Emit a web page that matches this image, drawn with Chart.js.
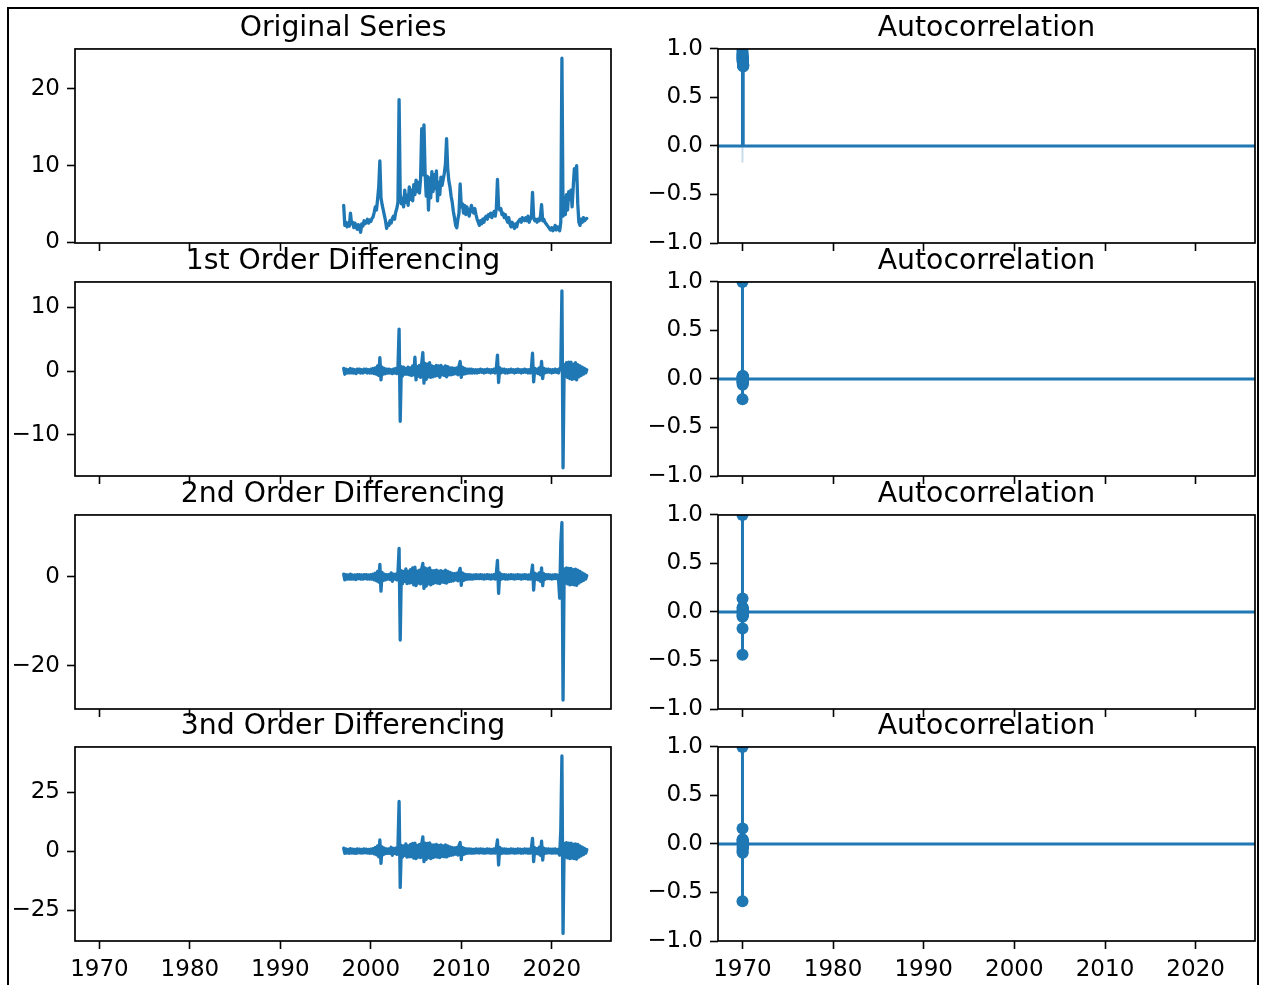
<!DOCTYPE html>
<html>
<head>
<meta charset="utf-8">
<title>Differencing and Autocorrelation</title>
<script src="https://cdn.jsdelivr.net/npm/chart.js@4.4.0/dist/chart.umd.min.js"></script>
<style>
    html, body { margin: 0; padding: 0; background: #fff; }
    body { width: 1262px; height: 985px; position: relative; overflow: hidden; }
    .frame { position: absolute; left: 7px; top: 7px; width: 1248px; height: 1000px; border: 2px solid #000; }
    canvas { position: absolute; }
</style>
</head>
<body>
<div class="frame"></div>
<canvas id="series0"></canvas>
<canvas id="acf0"></canvas>
<canvas id="series1"></canvas>
<canvas id="acf1"></canvas>
<canvas id="series2"></canvas>
<canvas id="acf2"></canvas>
<canvas id="series3"></canvas>
<canvas id="acf3"></canvas>
<script>
// ===== Data =====
// series sampled every 1.5 months, starting 1997.0
const SERIES_START = 1997;
const SERIES_STEP = 0.125;

const originalSeries = [
    4.8, 2.2, 2.6, 2.0, 2.5, 2.1, 3.8, 2.4,      // 1997
    2.6, 1.9, 2.5, 2.0, 1.7, 2.3, 1.8, 1.3,      // 1998
    2.4, 2.1, 2.8, 2.4, 2.6, 3.0, 2.5, 2.9,      // 1999
    2.7, 3.1, 3.3, 3.9, 4.6, 4.2, 5.6, 7.2,      // 2000
    10.6, 5.8, 4.9, 4.2, 3.5, 2.8, 1.8, 2.4,     // 2001
    2.2, 2.8, 2.5, 3.1, 3.4, 3.0, 3.9, 4.4,      // 2002
    5.2, 18.6, 6.3, 5.0, 5.7, 4.6, 6.8, 5.2,     // 2003
    6.1, 4.8, 7.2, 5.6, 6.8, 5.4, 7.5, 6.2,      // 2004
    8.1, 6.6, 7.8, 6.4, 8.3, 14.8, 8.8, 15.3,    // 2005
    9.0, 6.0, 8.6, 4.2, 8.4, 5.8, 9.2, 6.6,      // 2006
    8.8, 7.0, 9.3, 5.4, 7.8, 6.2, 8.5, 7.4,      // 2007
    8.2, 9.0, 10.2, 13.5, 9.6, 8.0, 7.2, 6.0,    // 2008
    5.2, 4.0, 3.2, 2.2, 1.9, 3.0, 3.8, 7.6,      // 2009
    4.6, 5.0, 3.8, 4.8, 3.6, 4.6, 4.0, 3.4,      // 2010
    4.2, 4.8, 4.0, 3.8, 4.4, 3.6, 3.0, 2.6,      // 2011
    2.2, 2.8, 2.4, 3.0, 2.6, 3.2, 3.4, 3.0,      // 2012
    3.6, 3.4, 3.8, 3.2, 3.6, 4.0, 3.4, 4.4,      // 2013
    8.2, 4.6, 4.2, 4.4, 3.6, 3.8, 3.2, 3.6,      // 2014
    3.0, 2.6, 3.2, 2.4, 2.0, 2.6, 2.2, 1.8,      // 2015
    2.4, 2.0, 2.6, 2.8, 3.0, 2.6, 3.2, 3.0,      // 2016
    2.8, 3.2, 2.8, 3.4, 2.6, 3.0, 3.2, 6.5,      // 2017
    3.2, 2.8, 3.0, 2.6, 3.0, 2.8, 3.4, 4.9,      // 2018
    2.8, 3.0, 2.6, 2.4, 2.2, 2.0, 1.8, 1.6,      // 2019
    1.9, 1.5, 1.7, 2.2, 1.6, 2.0, 1.8, 1.5,      // 2020
    2.6, 24.0, 3.4, 5.8, 3.6, 6.2, 4.2, 6.6,     // 2021
    5.6, 6.8, 4.6, 7.2, 9.6, 8.2, 10.0, 5.0,     // 2022
    2.6, 2.2, 3.0, 2.6, 3.2, 2.8, 3.0, 3.1       // 2023
];

const diff1Series = [
    0.4, -0.5, 0.3, -0.3, 0.2, -0.3, 0.4, -0.3,
    0.3, -0.3, 0.2, -0.4, 0.3, -0.2, 0.3, -0.3,
    0.2, -0.3, 0.3, -0.2, 0.3, -0.3, 0.2, -0.3,
    0.3, -0.3, 0.4, -0.4, 0.5, -0.5, 0.8, -0.7,
    2.1, -1.4, 0.6, -0.5, 0.4, -0.4, 0.3, -0.3,
    0.3, -0.3, 0.2, -0.4, 0.3, -0.3, 0.4, -0.4,
    0.6, 6.6, -7.9, 0.7, -0.8, 0.6, -0.5, 0.4,
    -0.5, 0.6, -0.6, 0.5, -0.7, 0.8, -0.6, 2.2,
    -1.4, 0.7, -0.8, 0.9, -1.0, 1.2, 2.9, -1.9,
    1.2, -1.3, 1.1, -0.9, 1.3, -1.0, 0.8, -0.9,
    0.7, -0.8, 0.9, -0.7, 0.8, -1.0, 0.9, -0.6,
    0.6, -0.7, 0.8, -0.9, 0.7, -0.6, 0.5, -0.6,
    0.5, -0.5, 0.4, -0.4, 0.5, -0.6, 0.8, 1.5,
    -1.0, 0.6, -0.5, 0.4, -0.4, 0.3, -0.3, 0.3,
    -0.3, 0.3, -0.3, 0.2, -0.3, 0.2, -0.3, 0.2,
    -0.2, 0.3, -0.2, 0.2, -0.3, 0.2, -0.2, 0.3,
    -0.2, 0.2, -0.3, 0.2, -0.2, 0.3, -0.3, 0.4,
    2.5, -1.8, 0.5, -0.3, 0.3, -0.2, 0.3, -0.3,
    0.2, -0.3, 0.2, -0.2, 0.3, -0.2, 0.2, -0.3,
    0.2, -0.2, 0.3, -0.2, 0.2, -0.3, 0.2, -0.2,
    0.3, -0.2, 0.2, -0.3, 0.2, -0.3, 0.4, 2.8,
    -1.7, 0.4, -0.3, 0.3, -0.4, 0.5, -0.6, 1.5,
    -1.2, 0.4, -0.3, 0.3, -0.2, 0.3, -0.2, 0.2,
    -0.3, 0.2, -0.2, 0.3, -0.2, 0.2, -0.3, 0.4,
    0.6, 12.6, -15.2, 1.0, -0.8, 1.3, -1.0, 1.4,
    -1.2, 1.4, -1.3, 1.1, -1.2, 1.3, -1.4, 1.0,
    -0.9, 0.8, -0.7, 0.6, -0.5, 0.4, -0.3, 0.2
];

const diff2Series = [
    0.6, -0.7, 0.5, -0.5, 0.4, -0.5, 0.6, -0.5,
    0.4, -0.5, 0.4, -0.6, 0.5, -0.4, 0.5, -0.5,
    0.4, -0.5, 0.5, -0.4, 0.5, -0.5, 0.4, -0.5,
    0.5, -0.5, 0.6, -0.7, 0.8, -0.9, 1.2, -1.2,
    2.8, -3.2, 1.0, -0.8, 0.6, -0.7, 0.5, -0.5,
    0.5, -0.6, 0.9, -1.0, 0.6, -0.5, 0.6, -0.7,
    1.0, 6.4, -14.2, 1.4, -1.6, 1.2, -1.0, 1.8,
    -1.5, 1.2, -1.4, 1.6, -1.3, 2.0, -1.8, 2.2,
    -2.0, 1.3, -1.4, 1.5, -1.6, 1.8, 3.0, -2.6,
    2.0, -2.1, 1.8, -1.6, 2.0, -1.8, 1.4, -1.5,
    1.4, -1.3, 1.5, -1.4, 1.3, -1.5, 1.4, -1.2,
    1.2, -1.3, 1.5, -1.4, 1.2, -1.1, 1.0, -1.0,
    0.8, -0.9, 0.7, -0.7, 0.8, -0.9, 1.2, 1.9,
    -1.9, 0.9, -0.8, 0.6, -0.6, 0.5, -0.5, 0.5,
    -0.5, 0.4, -0.5, 0.4, -0.4, 0.5, -0.4, 0.4,
    -0.4, 0.5, -0.4, 0.4, -0.5, 0.4, -0.4, 0.5,
    -0.4, 0.4, -0.5, 0.4, -0.4, 0.5, -0.5, 0.7,
    3.7, -3.7, 0.9, -0.6, 0.5, -0.4, 0.5, -0.5,
    0.4, -0.5, 0.4, -0.4, 0.5, -0.4, 0.4, -0.5,
    0.4, -0.4, 0.5, -0.4, 0.4, -0.5, 0.4, -0.4,
    0.5, -0.4, 0.4, -0.5, 0.4, -0.5, 0.7, 2.6,
    -3.0, 0.8, -0.6, 0.6, -0.7, 0.9, -1.0, 2.0,
    -2.0, 0.7, -0.6, 0.5, -0.4, 0.5, -0.4, 0.4,
    -0.5, 0.4, -0.4, 0.5, -0.4, 0.4, -0.5, -4.8,
    7.5, 12.2, -27.7, 1.8, -1.4, 2.0, -1.6, 1.9,
    -1.8, 1.9, -1.7, 1.6, -1.8, 1.7, -1.9, 1.5,
    -1.4, 1.2, -1.1, 0.9, -0.8, 0.6, -0.5, 0.3
];

const diff3Series = [
    1.2, -1.0, 0.9, -0.8, 0.7, -0.9, 1.0, -0.8,
    0.8, -0.9, 0.7, -1.0, 0.9, -0.7, 0.8, -0.8,
    0.7, -0.8, 0.9, -0.7, 0.8, -0.8, 0.7, -0.9,
    0.8, -0.9, 1.0, -1.2, 1.5, -1.6, 2.2, -2.4,
    4.7, -5.2, 1.8, -1.5, 1.2, -1.1, 0.9, -1.0,
    0.9, -1.0, 1.6, -1.8, 1.1, -1.0, 1.2, -1.4,
    2.0, 21.0, -15.4, 2.4, -2.6, 2.2, -1.8, 3.0,
    -2.6, 2.2, -2.4, 2.8, -2.3, 3.2, -3.0, 3.4,
    -3.2, 2.4, -2.6, 2.8, -2.8, 3.0, 6.0, -4.5,
    3.4, -3.5, 3.2, -2.8, 3.5, -3.2, 2.6, -2.8,
    2.6, -2.4, 2.8, -2.6, 2.4, -2.8, 2.6, -2.2,
    2.2, -2.4, 2.6, -2.5, 2.2, -2.0, 1.8, -1.8,
    1.5, -1.6, 1.3, -1.3, 1.5, -1.7, 2.4, 3.6,
    -3.6, 1.6, -1.4, 1.1, -1.1, 0.9, -0.9, 0.9,
    -0.9, 0.8, -0.9, 0.7, -0.8, 0.9, -0.7, 0.8,
    -0.8, 0.9, -0.7, 0.8, -0.9, 0.7, -0.8, 0.9,
    -0.7, 0.8, -0.9, 0.7, -0.8, 0.9, -0.9, 1.3,
    4.7, -5.9, 1.6, -1.1, 0.9, -0.8, 0.9, -0.9,
    0.8, -0.9, 0.7, -0.8, 0.9, -0.7, 0.8, -0.9,
    0.7, -0.8, 0.9, -0.7, 0.8, -0.9, 0.7, -0.8,
    0.9, -0.7, 0.8, -0.9, 0.8, -0.9, 1.3, 5.4,
    -4.5, 1.4, -1.1, 1.0, -1.2, 1.6, -1.8, 4.2,
    -3.8, 1.2, -1.0, 0.9, -0.8, 0.9, -0.7, 0.8,
    -0.9, 0.8, -0.8, 0.9, -0.8, 0.7, -0.9, -1.7,
    8.9, 40.3, -34.9, 3.2, -2.6, 3.6, -2.9, 3.4,
    -3.2, 3.4, -3.0, 2.9, -3.2, 3.0, -3.4, 2.8,
    -2.6, 2.2, -2.0, 1.7, -1.5, 1.1, -0.9, 0.6
];

// autocorrelation, lags 0..30 (lags land in days after 1970 on the shared date axis)
const acfOriginal = [1.0, 0.97, 0.95, 0.94, 0.93, 0.92, 0.91, 0.91, 0.90, 0.90, 0.89, 0.89, 0.88, 0.88, 0.87, 0.87,
    0.87, 0.86, 0.86, 0.86, 0.85, 0.85, 0.85, 0.84, 0.84, 0.84, 0.84, 0.83, 0.83, 0.83, 0.82];
const acfDiff1 = [1.0, -0.21, -0.03, 0.02, -0.04, 0.03, -0.02, 0.01, -0.06, 0.02, 0.0, -0.03, 0.01, 0.02, -0.02, 0.01,
    -0.01, 0.03, -0.02, 0.0, 0.01, -0.04, 0.02, -0.01, 0.01, 0.0, -0.02, 0.01, 0.02, -0.01, 0.0];
const acfDiff2 = [1.0, -0.44, -0.17, 0.14, -0.05, 0.04, -0.03, 0.02, -0.04, 0.05, -0.01, 0.01, -0.02, 0.03, 0.0, -0.01,
    0.02, -0.03, 0.01, 0.0, -0.02, 0.01, 0.02, -0.01, 0.0, 0.01, -0.02, 0.01, 0.0, -0.01, 0.01];
const acfDiff3 = [1.0, -0.59, 0.16, -0.08, 0.05, -0.06, 0.03, -0.04, 0.02, -0.09, 0.04, -0.02, 0.01, 0.03, -0.03, 0.02,
    -0.01, 0.0, 0.02, -0.02, 0.01, -0.01, 0.0, 0.02, -0.03, 0.01, 0.0, -0.01, 0.01, 0.0, -0.01];
const acfBands = [0.17, 0.03, 0.03, 0.03];

const seriesTitles = ['Original Series', '1st Order Differencing', '2nd Order Differencing', '3nd Order Differencing'];
const acfTitle = 'Autocorrelation';

const yearTicks = [1970, 1980, 1990, 2000, 2010, 2020];
const yearRange = [1967.3, 2026.55];
const seriesTicks = [[0, 10, 20], [-10, 0, 10], [-20, 0], [-25, 0, 25]];
const seriesRanges = [[-0.1, 25.2], [-16.5, 14.0], [-29.7, 13.9], [-38.1, 44.1]];
const acfTicks = [-1, -0.5, 0, 0.5, 1];
const acfRange = [-1, 1];

// ===== Layout =====
const AXES_W = [536, 539];
const AXES_H = 194;
const COL_LEFT = [75, 718];
const ROW_TOP = [49, 282, 515, 747];
const Y_AXIS_W = 68;
const TITLE_SIZE = 28.3;
const TITLE_PAD = 3;
const TITLE_H = Math.round(TITLE_SIZE * 1.2) + TITLE_PAD;
const X_AXIS_H = 24;        // must exceed half a y label plus its padding
const X_AXIS_H_BOTTOM = 48;
const RIGHT_PAD = 4;

const BLUE = '#1f77b4';
const FONT = 'DejaVu Sans';

Chart.defaults.font.family = FONT;
Chart.defaults.font.size = 23;
Chart.defaults.color = '#000';

// draw the four spines around the plot area
const spinesPlugin = {
    id: 'spines',
    afterDraw(chart) {
        const { ctx, chartArea: a } = chart;
        ctx.save();
        ctx.strokeStyle = '#000';
        ctx.lineWidth = 1.7;
        ctx.strokeRect(a.left, a.top, a.right - a.left, a.bottom - a.top);
        ctx.restore();
    }
};

const minusSign = (txt, v) => (v < 0 ? '\u2212' : '') + txt;

// ===== Charts Manager =====
const PanelCharts = {
    charts: {},

    // Position and size the canvas for a panel
    placeCanvas(canvasId, col, row) {
        const canvas = document.getElementById(canvasId);
        const xh = row === 3 ? X_AXIS_H_BOTTOM : X_AXIS_H;
        canvas.width = Y_AXIS_W + AXES_W[col] + RIGHT_PAD;
        canvas.height = TITLE_H + AXES_H + xh;
        canvas.style.left = (COL_LEFT[col] - Y_AXIS_W) + 'px';
        canvas.style.top = (ROW_TOP[row] - TITLE_H) + 'px';
        return canvas;
    },

    xScale(row) {
        const xh = row === 3 ? X_AXIS_H_BOTTOM : X_AXIS_H;
        return {
            type: 'linear',
            min: yearRange[0],
            max: yearRange[1],
            afterBuildTicks: (axis) => { axis.ticks = yearTicks.map(v => ({ value: v })); },
            afterFit: (axis) => { axis.height = xh; },
            grid: { display: true, drawOnChartArea: false, drawTicks: true, tickLength: 8, tickWidth: 1.6, tickColor: '#000' },
            border: { display: false },
            ticks: {
                display: row === 3,
                padding: 7,
                maxRotation: 0,
                autoSkip: false,
                callback: (v) => String(v)
            }
        };
    },

    yScale(ticks, range, decimals) {
        return {
            type: 'linear',
            min: range[0],
            max: range[1],
            afterBuildTicks: (axis) => { axis.ticks = ticks.map(v => ({ value: v })); },
            afterFit: (axis) => { axis.width = Y_AXIS_W; },
            grid: { display: true, drawOnChartArea: false, drawTicks: true, tickLength: 8, tickWidth: 1.6, tickColor: '#000' },
            border: { display: false },
            ticks: {
                padding: 7,
                autoSkip: false,
                callback: (v) => minusSign(Math.abs(v).toFixed(decimals), v)
            }
        };
    },

    baseOptions(title, row, yScale) {
        return {
            responsive: false,
            devicePixelRatio: 1,
            animation: false,
            layout: { padding: { left: 0, right: RIGHT_PAD, top: 0, bottom: 0 } },
            plugins: {
                legend: { display: false },
                tooltip: { enabled: false },
                title: {
                    display: true,
                    text: title,
                    color: '#000',
                    fullSize: false,
                    font: { family: FONT, size: TITLE_SIZE, weight: 'normal', lineHeight: 1.2 },
                    padding: { top: 0, bottom: TITLE_PAD }
                }
            },
            scales: { x: this.xScale(row), y: yScale }
        };
    },

    // Time series panel (left column)
    createSeriesChart(canvasId, row, values) {
        const canvas = this.placeCanvas(canvasId, 0, row);
        const points = values.map((v, i) => ({ x: SERIES_START + i * SERIES_STEP, y: v }));

        this.charts[canvasId] = new Chart(canvas, {
            type: 'line',
            data: {
                datasets: [{
                    data: points,
                    borderColor: BLUE,
                    borderWidth: 3.3,
                    borderJoinStyle: 'round',
                    borderCapStyle: 'round',
                    pointRadius: 0,
                    tension: 0,
                    clip: 0
                }]
            },
            options: this.baseOptions(seriesTitles[row], row,
                this.yScale(seriesTicks[row], seriesRanges[row], 0)),
            plugins: [spinesPlugin]
        });
    },

    // Autocorrelation panel (right column)
    createAcfChart(canvasId, row, acf, band) {
        const canvas = this.placeCanvas(canvasId, 1, row);
        const lagX = (lag) => 1970 + lag / 365.25;

        const stems = [];
        acf.forEach((v, lag) => {
            stems.push({ x: lagX(lag), y: 0 }, { x: lagX(lag), y: v }, { x: lagX(lag), y: null });
        });
        const markers = acf.map((v, lag) => ({ x: lagX(lag), y: v }));

        this.charts[canvasId] = new Chart(canvas, {
            type: 'line',
            data: {
                datasets: [
                    {
                        data: markers,
                        showLine: false,
                        pointRadius: 6,
                        pointBorderWidth: 0,
                        pointBackgroundColor: BLUE,
                        order: 0,
                        clip: 0
                    },
                    {
                        data: stems,
                        borderColor: BLUE,
                        borderWidth: 3,
                        pointRadius: 0,
                        spanGaps: false,
                        order: 1,
                        clip: 0
                    },
                    {
                        data: [{ x: yearRange[0], y: 0 }, { x: yearRange[1], y: 0 }],
                        borderColor: BLUE,
                        borderWidth: 3,
                        pointRadius: 0,
                        order: 2,
                        clip: 0
                    },
                    {
                        data: [{ x: lagX(0), y: -band }, { x: lagX(0), y: band }],
                        borderColor: 'rgba(31, 119, 180, 0.25)',
                        borderWidth: 2,
                        pointRadius: 0,
                        order: 3,
                        clip: 0
                    }
                ]
            },
            options: this.baseOptions(acfTitle, row, this.yScale(acfTicks, acfRange, 1)),
            plugins: [spinesPlugin]
        });
    },

    drawAll() {
        const series = [originalSeries, diff1Series, diff2Series, diff3Series];
        const acfs = [acfOriginal, acfDiff1, acfDiff2, acfDiff3];
        for (let row = 0; row < 4; row++) {
            this.createSeriesChart('series' + row, row, series[row]);
            this.createAcfChart('acf' + row, row, acfs[row], acfBands[row]);
        }
    }
};

PanelCharts.drawAll();
</script>
</body>
</html>
